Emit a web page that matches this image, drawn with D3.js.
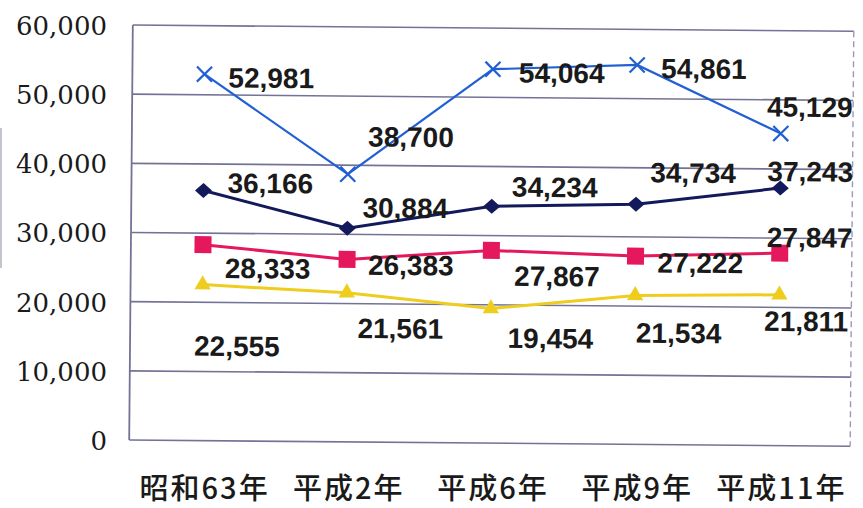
<!DOCTYPE html>
<html>
<head>
<meta charset="utf-8">
<script src="https://cdn.jsdelivr.net/npm/d3@7"></script>
<style>
  html, body { margin: 0; padding: 0; background: #fff; }
  svg { display: block; }
</style>
</head>
<body>
<script>
// data
var categories = ["昭和63年", "平成2年", "平成6年", "平成9年", "平成11年"];
var seriesCross = [52981, 38700, 54064, 54861, 45129];
var seriesDiamond = [36166, 30884, 34234, 34734, 37243];
var seriesSquare = [28333, 26383, 27867, 27222, 27847];
var seriesTriangle = [22555, 21561, 19454, 21534, 21811];
var yTicks = [0, 10000, 20000, 30000, 40000, 50000, 60000];

// label nudges (layout only, px from the point)
var crossLabelPos = [[24, 3], [20, -38], [26, 3], [24, 3], [-14, -27]];
var diamondLabelPos = [[24, -8], [15, -21], [20, -20], [14, -32], [-13, -17]];
var squareLabelPos = [[22, 23], [21, 5], [23, 25], [22, 6], [-13, -16]];
var triangleLabelPos = [[-8, 61], [11, 35], [17, 29], [1, 37], [-15, 26]];

var width = 863;
var height = 508;

var svg = d3.select("body")
    .append("svg")
    .attr("width", width)
    .attr("height", height);

var x = d3.scalePoint()
    .domain(categories)
    .range([131, 852])
    .padding(0.5);

var y = d3.scaleLinear()
    .domain([0, 60000])
    .range([440, 25]);

var fmt = d3.format(",");

// stray scan line at the left edge
svg.append("line")
    .attr("x1", 1).attr("x2", 1)
    .attr("y1", 128).attr("y2", 268)
    .attr("stroke", "#c4c4cc")
    .attr("stroke-width", 2);

// the scanned plot sits slightly tilted
var g = svg.append("g")
    .attr("transform", "rotate(0.5,131,233)");

// gridlines
g.append("g")
    .selectAll("line")
    .data(yTicks)
    .enter()
    .append("line")
    .attr("x1", 131)
    .attr("x2", 852)
    .attr("y1", function(d) { return y(d); })
    .attr("y2", function(d) { return y(d); })
    .attr("stroke", "#737397")
    .attr("stroke-width", 1.6);

// frame
g.append("line")
    .attr("x1", 131).attr("x2", 131)
    .attr("y1", y(60000)).attr("y2", y(0))
    .attr("stroke", "#737397")
    .attr("stroke-width", 1.8);
g.append("line")
    .attr("x1", 852).attr("x2", 852)
    .attr("y1", y(60000)).attr("y2", y(0))
    .attr("stroke", "#9a9ab8")
    .attr("stroke-width", 1.4)
    .attr("stroke-dasharray", "6,4");

// y axis labels
var yAxis = d3.axisLeft(y)
    .tickValues(yTicks)
    .tickFormat(fmt)
    .tickSize(0)
    .tickPadding(24);
var ya = svg.append("g")
    .attr("transform", "translate(131,0)")
    .call(yAxis);
ya.select(".domain").remove();
ya.selectAll("text")
    .attr("font-family", "'DejaVu Serif', serif")
    .attr("font-size", 26)
    .attr("fill", "#1a1a1a")
    .attr("dy", "0.36em");

// x axis labels
var xAxis = d3.axisBottom(x)
    .tickSize(0)
    .tickPadding(38);
var xa = svg.append("g")
    .attr("transform", "translate(0,440)")
    .call(xAxis);
xa.select(".domain").remove();
xa.selectAll("text")
    .attr("font-family", "'Noto Sans CJK JP', sans-serif")
    .attr("font-size", 29)
    .attr("font-weight", 500)
    .attr("letter-spacing", 2)
    .attr("dx", 1)
    .attr("fill", "#1a1a1a");

var line = d3.line()
    .x(function(d, i) { return x(categories[i]); })
    .y(function(d) { return y(d); });

function drawLine(values, color, w) {
    g.append("path")
        .datum(values)
        .attr("fill", "none")
        .attr("stroke", color)
        .attr("stroke-width", w)
        .attr("d", line);
}

drawLine(seriesTriangle, "#eecd1e", 3);
drawLine(seriesSquare, "#e5185e", 3);
drawLine(seriesDiamond, "#121a5c", 3);
drawLine(seriesCross, "#2160d4", 2.2);

function place(d, i) {
    return "translate(" + x(categories[i]) + "," + y(d) + ")";
}

// markers
var triSym = d3.symbol().type(d3.symbolTriangle).size(115);
g.append("g").selectAll("path")
    .data(seriesTriangle).enter().append("path")
    .attr("d", triSym)
    .attr("fill", "#eecd1e")
    .attr("transform", place);

g.append("g").selectAll("rect")
    .data(seriesSquare).enter().append("rect")
    .attr("x", function(d, i) { return x(categories[i]) - 8.5; })
    .attr("y", function(d) { return y(d) - 8.5; })
    .attr("width", 17)
    .attr("height", 17)
    .attr("fill", "#e5185e");

g.append("g").selectAll("path")
    .data(seriesDiamond).enter().append("path")
    .attr("d", "M0,-7.5L8.5,0L0,7.5L-8.5,0Z")
    .attr("fill", "#121a5c")
    .attr("transform", place);

var crossSym = d3.symbol().type(d3.symbolX).size(150);
g.append("g").selectAll("path")
    .data(seriesCross).enter().append("path")
    .attr("d", crossSym)
    .attr("fill", "none")
    .attr("stroke", "#2160d4")
    .attr("stroke-width", 2.2)
    .attr("transform", place);

// data labels
function drawLabels(values, pos) {
    g.append("g").selectAll("text")
        .data(values).enter().append("text")
        .attr("x", function(d, i) { return x(categories[i]) + pos[i][0]; })
        .attr("y", function(d, i) { return y(d) + pos[i][1]; })
        .attr("dy", "0.36em")
        .attr("font-family", "'Liberation Sans', sans-serif")
        .attr("font-size", 28)
        .attr("font-weight", "bold")
        .attr("fill", "#1a1a1a")
        .text(function(d) { return fmt(d); });
}

drawLabels(seriesCross, crossLabelPos);
drawLabels(seriesDiamond, diamondLabelPos);
drawLabels(seriesSquare, squareLabelPos);
drawLabels(seriesTriangle, triangleLabelPos);
</script>
</body>
</html>
